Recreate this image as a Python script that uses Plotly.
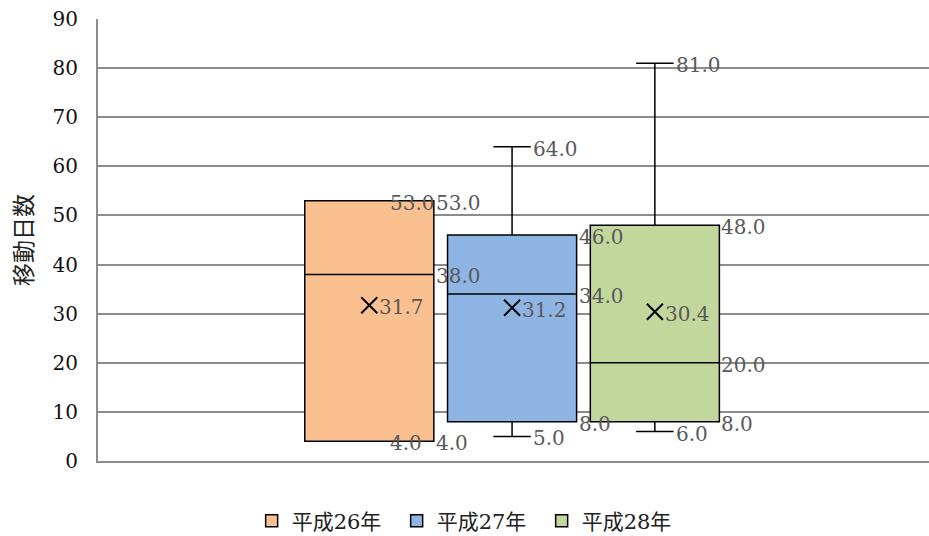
import plotly.graph_objects as go

# Box-plot statistics of 移動日数 per year
years = ["平成26年", "平成27年", "平成28年"]
mins = [4.0, 5.0, 6.0]
q1s = [4.0, 8.0, 8.0]
medians = [38.0, 34.0, 20.0]
q3s = [53.0, 46.0, 48.0]
maxs = [53.0, 64.0, 81.0]
means = [31.7, 31.2, 30.4]

fills = ["#FAC090", "#8EB4E3", "#C3D69B"]
y_ticks = [0, 10, 20, 30, 40, 50, 60, 70, 80, 90]

NUM_FONT = "DejaVu Serif, Noto Sans CJK JP"
LABEL_COLOR = "#595959"
GRID_COLOR = "#8C8C8C"

box_w = 0.904
whisker_w = 0.29
positions = [i - 1 for i in range(len(years))]

fig = go.Figure()

for pos, name, lo, a, m, b, hi, fill in zip(positions, years, mins, q1s, medians, q3s, maxs, fills):
    fig.add_trace(go.Box(
        x=[pos], q1=[a], median=[m], q3=[b], lowerfence=[lo], upperfence=[hi],
        name=name, orientation="v", width=box_w, whiskerwidth=whisker_w,
        fillcolor=fill, line=dict(color="black", width=1.5),
        boxpoints=False, hoverinfo="skip",
    ))

fig.add_trace(go.Scatter(
    x=positions, y=means, mode="markers", showlegend=False, hoverinfo="skip",
    marker=dict(symbol="x-thin", size=16, line=dict(width=2, color="black")),
))

# value labels placed to the right of each element
annotations = []
def label(x, y, val, shift):
    annotations.append(dict(
        x=x, y=y, xref="x", yref="y", text=f"{val:.1f}", showarrow=False,
        xanchor="left", yanchor="middle", xshift=shift, yshift=-2,
        font=dict(family=NUM_FONT, size=20, color=LABEL_COLOR),
    ))

for pos, lo, a, m, b, hi, mu in zip(positions, mins, q1s, medians, q3s, maxs, means):
    edge = pos + box_w / 2
    cap = pos + box_w * whisker_w / 2
    label(cap, hi, hi, 0)
    label(edge, b, b, 0)
    label(edge, m, m, 0)
    label(edge, a, a, 0)
    label(cap, lo, lo, 0)
    label(pos, mu, mu, 8)

# vertical axis title
plot_l, plot_r, plot_t, plot_b = 98, 929, 19, 461
annotations.append(dict(
    x=(22 - plot_l) / (plot_r - plot_l), y=(plot_b - 240) / (plot_b - plot_t),
    xref="paper", yref="paper", text="移動日数",
    showarrow=False, textangle=-90, xanchor="center", yanchor="middle",
    font=dict(family="Noto Sans CJK JP", size=23, color="#222222"),
))

fig.update_layout(
    width=929, height=536,
    margin=dict(l=98, r=0, t=19, b=75, autoexpand=False),
    paper_bgcolor="white", plot_bgcolor="white",
    boxmode="overlay",
    showlegend=True,
    legend=dict(
        orientation="h", xref="container", yref="container",
        x=0.505, xanchor="center", y=1 - 521 / 536, yanchor="middle",
        font=dict(family=NUM_FONT, size=21, color="#222222"),
        itemwidth=30, entrywidth=100, bgcolor="rgba(0,0,0,0)",
    ),
    annotations=annotations,
    xaxis=dict(
        range=[-2.90, 2.92], showticklabels=False, showgrid=False, zeroline=False,
        showline=True, linecolor=GRID_COLOR, linewidth=2, ticks="",
    ),
    yaxis=dict(
        range=[0, 90], tickvals=y_ticks, ticktext=[str(t) for t in y_ticks],
        showgrid=True, gridcolor=GRID_COLOR, gridwidth=2,
        showline=True, linecolor=GRID_COLOR, linewidth=2, zeroline=False,
        ticks="", ticklabelstandoff=14,
        tickfont=dict(family=NUM_FONT, size=20, color="#111111"),
    ),
)

fig.write_html("out.html")
